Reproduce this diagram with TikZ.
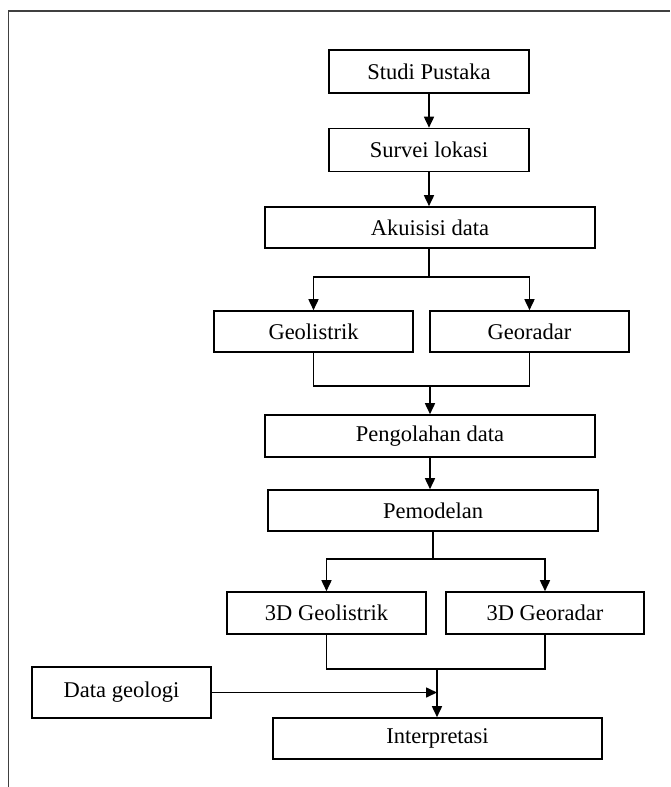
\documentclass[tikz,border=0pt]{standalone}
\usepackage{fontspec}
\setmainfont{Liberation Serif}
\usetikzlibrary{arrows.meta}
\begin{document}
\begin{tikzpicture}[x=1pt,y=-1pt,
  box/.style={draw, line width=1.6pt, inner sep=0pt,
    font=\fontsize{22.5}{26}\selectfont},
  link/.style={line width=1.6pt},
  flow/.style={line width=1.6pt, -{Triangle[length=11pt,width=10pt]}},
  frameline/.style={line width=1.2pt, draw=black!75}]

\useasboundingbox[fill=white] (0,0) rectangle (670,787);

% page frame
\draw[frameline] (8.5,787) -- (8.5,11) -- (670,11);

% process boxes
\node[box, minimum width=200pt, minimum height=43pt] (studi)  at (429,71.5)   {Studi Pustaka};
\node[box, minimum width=200pt, minimum height=43pt] (survei) at (429,150) {Survei lokasi};
\node[box, minimum width=330pt, minimum height=41pt] (akuisisi) at (430,227.5) {Akuisisi data};
\node[box, minimum width=199pt, minimum height=41pt] (geolis) at (313.5,331.5) {Geolistrik};
\node[box, minimum width=199pt, minimum height=41pt] (georadar) at (529.5,331.5) {Georadar};
\node[box, minimum width=330pt, minimum height=42pt] (olah) at (430,436) {Pengolahan data};
\node[box, minimum width=330pt, minimum height=41pt] (model) at (433,510.5) {Pemodelan};
\node[box, minimum width=199pt, minimum height=42pt] (geo3) at (326.5,613) {3D Geolistrik};
\node[box, minimum width=198pt, minimum height=42pt] (rad3) at (545,613) {3D Georadar};
\node[box, minimum width=179pt, minimum height=51pt] (geologi) at (121.5,692.5) {Data geologi};
\node[box, minimum width=329pt, minimum height=41pt] (interp) at (437.5,738.5) {Interpretasi};

% junction points
\coordinate (split1) at (429,277);
\coordinate (merge1) at (430,386);
\coordinate (split2) at (433,559);
\coordinate (merge2) at (437,669);
\coordinate (joinin) at (437,692.5);

% sequence
\draw[flow] (studi.south) -- (survei.north);
\draw[flow] (survei.south) -- (survei.south |- akuisisi.north);
\draw[link] (split1 |- akuisisi.south) -- (split1);
\draw[flow] (split1) -| (geolis.north);
\draw[flow] (split1) -| (georadar.north);
\draw[link] (geolis.south) |- (merge1) -| (georadar.south);
\draw[flow] (merge1) -- (olah.north);
\draw[flow] (olah.south) -- (olah.south |- model.north);
\draw[link] (model.south) -- (split2);
\draw[flow] (split2) -| (geo3.north);
\draw[flow] (split2) -| (rad3.north);
\draw[link] (geo3.south) |- (merge2) -| (rad3.south);
\draw[flow] (merge2) -- (merge2 |- interp.north);
\draw[flow] (geologi.east) -- (joinin);

\end{tikzpicture}
\end{document}
